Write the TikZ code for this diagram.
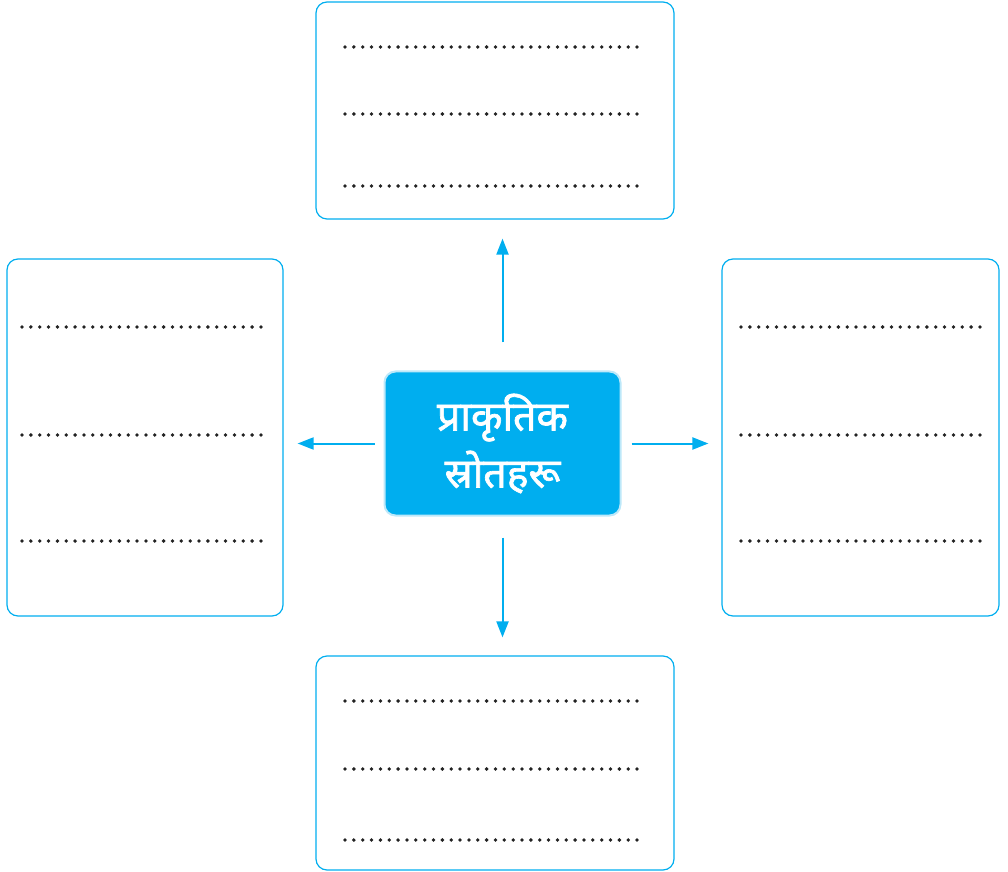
\documentclass[tikz,border=0pt]{standalone}
\usepackage{fontspec}
\newfontfamily\devfont[Script=Devanagari,FakeBold=1.6]{Noto Sans}
\usetikzlibrary{arrows.meta}
\definecolor{cy}{HTML}{00AEEF}
\definecolor{cylight}{HTML}{BDE8F9}
\definecolor{dotc}{HTML}{222222}
\tikzset{
  box/.style={draw=cy, line width=1.2pt, rounded corners=11pt, inner sep=0pt},
  centre/.style={fill=cy, draw=cylight, line width=2pt, rounded corners=11pt, inner sep=0pt,
    text=white, align=center, font=\devfont\fontsize{41}{57}\selectfont},
  arr/.style={draw=cy, line width=2pt, -{Triangle[length=16pt,width=12pt]}},
  dotline/.style={draw=dotc, line width=3.8pt, line cap=round, dash pattern=on 0pt off 8.85pt}
}
\begin{document}
\begin{tikzpicture}[x=1pt,y=1pt]
\useasboundingbox (0,0) rectangle (1008,871);
% boxes (y = 871 - pixel y)
\node[box, minimum width=358pt, minimum height=217pt] (t) at (495,760.5) {};
\node[box, minimum width=276pt, minimum height=357pt] (l) at (145,433.5) {};
\node[box, minimum width=277pt, minimum height=357pt] (r) at (860.5,433.5) {};
\node[box, minimum width=358pt, minimum height=214pt] (b) at (495,108) {};
\node[centre, minimum width=236pt, minimum height=144pt] (c) at (502.5,427.5)
  {प्राकृतिक\\स्रोतहरू};
% arrows
\draw[arr, shorten <=28pt, shorten >=19pt] (c.north) -- (c.north |- t.south);
\draw[arr, shorten <=21pt, shorten >=18pt] (c.south) -- (c.south |- b.north);
\draw[arr, shorten <=9pt, shorten >=14pt] (c.west) -- (c.west -| l.east);
\draw[arr, shorten <=10pt, shorten >=13pt] (c.east) -- (c.east -| r.west);
% dotted lines
\foreach \y in {824,757,685}{\draw[dotline] (345,\y) -- (642,\y);}
\foreach \y in {170,102,31}{\draw[dotline] (345,\y) -- (642,\y);}
\foreach \y in {544,436,330}{\draw[dotline] (22,\y) -- (267,\y);}
\foreach \y in {544,436,330}{\draw[dotline] (741,\y) -- (986,\y);}
\end{tikzpicture}
\end{document}
